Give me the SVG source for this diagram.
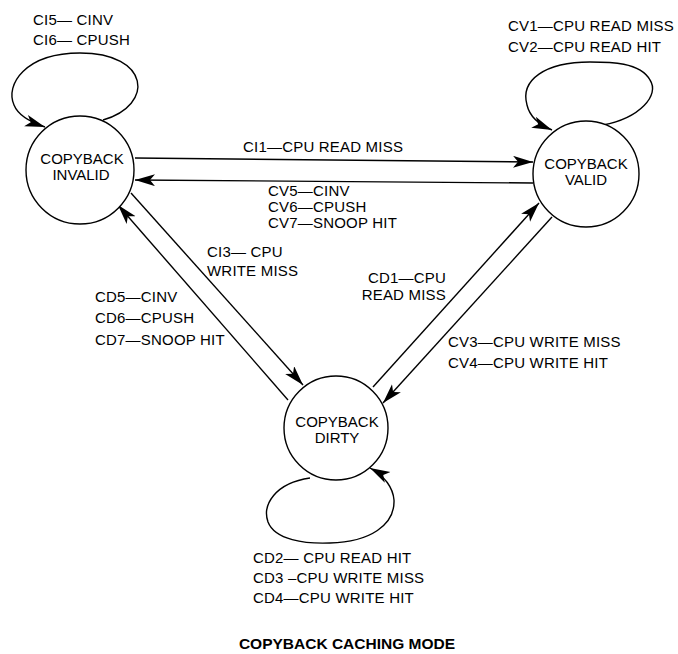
<svg xmlns="http://www.w3.org/2000/svg" width="678" height="654" viewBox="0 0 678 654">
<style>
text{font-family:"Liberation Sans",Arial,sans-serif;font-size:15px;fill:#000;letter-spacing:0.2px}
.n{text-anchor:middle;letter-spacing:0}
.st{fill:#fff;stroke:#000;stroke-width:1.4}
.c{fill:none;stroke:#000;stroke-width:1.4;marker-end:url(#ah)}
.t{font-weight:bold;text-anchor:middle;font-size:15.5px;letter-spacing:0}
</style>
<defs>
<marker id="ah" markerUnits="userSpaceOnUse" markerWidth="22" markerHeight="13" refX="20" refY="6" orient="auto">
<path d="M0,0 L20,6 L0,12 L5,6 z" fill="#000"/>
</marker>
</defs>
<rect width="678" height="654" fill="#fff"/>
<g id="connectors">
<path class="c" d="M135,158 L533,162"/>
<path class="c" d="M533,183 L135,180"/>
<path class="c" d="M131,193 L303,385"/>
<path class="c" d="M288,400 L118,205"/>
<path class="c" d="M373,387 L539,203"/>
<path class="c" d="M552,217 L383,403"/>
<path class="c" d="M103,120 C155,105 150,53 80,53 C25,53 5,85 14,105 C18,115 30,122 45,127"/>
<path class="c" d="M603,125 C640,118 660,95 650,80 C640,62 610,62 590,62 C545,62 520,80 527,105 C530,118 540,125 552,130"/>
<path class="c" d="M310,478 C275,483 262,505 268,522 C275,540 305,544 330,543 C370,542 395,525 394,500 C393,488 385,476 370,468"/>
</g>
<g id="invalid">
<circle class="st" cx="80" cy="170" r="54"/>
<text class="n" x="82" y="164">COPYBACK</text>
<text class="n" x="81" y="180">INVALID</text>
</g>
<g id="valid">
<circle class="st" cx="586" cy="174" r="53"/>
<text class="n" x="586" y="169">COPYBACK</text>
<text class="n" x="586" y="185">VALID</text>
</g>
<g id="dirty">
<circle class="st" cx="336" cy="428" r="52"/>
<text class="n" x="337" y="427">COPYBACK</text>
<text class="n" x="337" y="443">DIRTY</text>
</g>
<g id="labels">
<text x="33" y="25">CI5— CINV</text>
<text x="33" y="45">CI6— CPUSH</text>
<text x="508" y="31">CV1—CPU READ MISS</text>
<text x="508" y="52">CV2—CPU READ HIT</text>
<text x="243" y="152">CI1—CPU READ MISS</text>
<text x="268" y="196">CV5—CINV</text>
<text x="268" y="212">CV6—CPUSH</text>
<text x="268" y="228">CV7—SNOOP HIT</text>
<text x="207" y="257">CI3— CPU</text>
<text x="207" y="276">WRITE MISS</text>
<text x="95" y="302">CD5—CINV</text>
<text x="95" y="323">CD6—CPUSH</text>
<text x="95" y="345">CD7—SNOOP HIT</text>
<text x="446" y="283" text-anchor="end">CD1—CPU</text>
<text x="446" y="300" text-anchor="end">READ MISS</text>
<text x="448" y="347">CV3—CPU WRITE MISS</text>
<text x="448" y="368">CV4—CPU WRITE HIT</text>
<text x="253" y="563">CD2— CPU READ HIT</text>
<text x="253" y="583">CD3 –CPU WRITE MISS</text>
<text x="253" y="603">CD4—CPU WRITE HIT</text>
<text class="t" x="347" y="649">COPYBACK CACHING MODE</text>
</g>
</svg>
